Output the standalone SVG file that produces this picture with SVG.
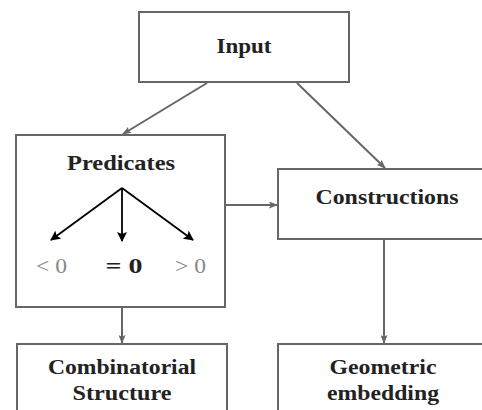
<svg xmlns="http://www.w3.org/2000/svg" width="482" height="410" viewBox="0 0 482 410">
<style>
.box{fill:#fff;stroke:#666;stroke-width:2}
.t{font-family:"Liberation Serif",serif;font-weight:bold;font-size:20.5px;fill:#222;text-anchor:middle}
.lbl{font-family:"Liberation Serif",serif;font-size:20px;fill:#888;text-anchor:middle}
.con{stroke:#666;stroke-width:2;fill:none}
.blk{stroke:#000;stroke-width:1.8;fill:none}
</style>
<defs>
<marker id="ag" viewBox="0 0 10 10" refX="9" refY="5" markerWidth="9" markerHeight="7" orient="auto" markerUnits="userSpaceOnUse" preserveAspectRatio="none"><path d="M0,0 L10,5 L0,10 L2,5 z" fill="#666"/></marker>
<marker id="ab" viewBox="0 0 10 10" refX="9" refY="5" markerWidth="10" markerHeight="10" orient="auto" markerUnits="userSpaceOnUse"><path d="M0,0 L10,5 L0,10 L2,5 z" fill="#000"/></marker>
</defs>
<rect width="482" height="410" fill="#fff"/>
<g id="connectors">
<line class="con" x1="207" y1="83" x2="123" y2="134" marker-end="url(#ag)"/>
<line class="con" x1="297" y1="83" x2="385" y2="168" marker-end="url(#ag)"/>
<line class="con" x1="226" y1="205" x2="277" y2="205" marker-end="url(#ag)"/>
<line class="con" x1="384" y1="240" x2="384" y2="343" marker-end="url(#ag)"/>
<line class="con" x1="122" y1="308" x2="122" y2="343" marker-end="url(#ag)"/>
</g>
<g id="input">
<rect class="box" x="139" y="12" width="210" height="70"/>
<text class="t" x="244" y="53" textLength="55" lengthAdjust="spacingAndGlyphs">Input</text>
</g>
<g id="predicates">
<rect class="box" x="16" y="135" width="209" height="172"/>
<text class="t" x="121" y="170" textLength="108" lengthAdjust="spacingAndGlyphs">Predicates</text>
<line class="blk" x1="122" y1="188" x2="51" y2="240" marker-end="url(#ab)"/>
<line class="blk" x1="122" y1="188" x2="122" y2="241" marker-end="url(#ab)"/>
<line class="blk" x1="122" y1="188" x2="193" y2="240" marker-end="url(#ab)"/>
<text class="lbl" x="51.5" y="273" textLength="31" lengthAdjust="spacingAndGlyphs">&lt; 0</text>
<text class="lbl" x="124" y="273" textLength="37" lengthAdjust="spacingAndGlyphs" style="font-weight:bold;fill:#222">= 0</text>
<text class="lbl" x="190.5" y="273" textLength="31" lengthAdjust="spacingAndGlyphs">&gt; 0</text>
</g>
<g id="constructions">
<rect class="box" x="278" y="169" width="210" height="70"/>
<text class="t" x="387" y="204" textLength="143" lengthAdjust="spacingAndGlyphs">Constructions</text>
</g>
<g id="combinatorial">
<rect class="box" x="17" y="344" width="210" height="80"/>
<text class="t" x="122" y="374" textLength="148" lengthAdjust="spacingAndGlyphs">Combinatorial</text>
<text class="t" x="122" y="400" textLength="99" lengthAdjust="spacingAndGlyphs">Structure</text>
</g>
<g id="geometric">
<rect class="box" x="278" y="344" width="210" height="80"/>
<text class="t" x="383" y="374" textLength="107" lengthAdjust="spacingAndGlyphs">Geometric</text>
<text class="t" x="383" y="400" textLength="112" lengthAdjust="spacingAndGlyphs">embedding</text>
</g>
</svg>
